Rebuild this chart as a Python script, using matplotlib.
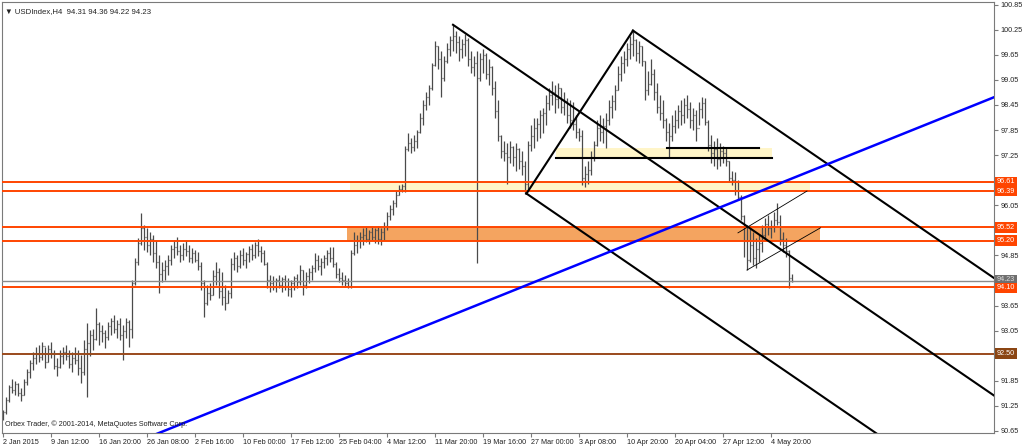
import numpy as np
import matplotlib.pyplot as plt
from matplotlib.patches import Rectangle
from matplotlib.transforms import ScaledTranslation

plt.rcParams['font.family'] = ['Liberation Sans', 'DejaVu Sans']

# USDIndex H4, every second bar (8 hours per sample)
highs = [91.15, 91.45, 91.75, 91.90, 91.85, 91.80, 91.68, 91.90, 92.13, 92.35,
         92.55, 92.65, 92.70, 92.78, 92.65, 92.70, 92.78, 92.58, 92.40, 92.58,
         92.65, 92.70, 92.58, 92.55, 92.65, 92.58, 92.47, 92.82, 93.23, 93.06,
         93.10, 93.59, 93.25, 93.18, 93.06, 93.25, 93.35, 93.42, 93.30, 93.35,
         93.18, 93.35, 93.30, 94.26, 94.78, 95.26, 95.86, 95.57, 95.50, 95.40,
         95.33, 95.21, 94.85, 94.69, 94.73, 94.85, 95.09, 95.21, 95.28, 95.09,
         95.14, 95.21, 95.09, 95.02, 94.97, 94.93, 94.69, 94.26, 94.14, 94.19,
         94.50, 94.69, 94.55, 94.45, 94.14, 94.02, 94.80, 94.93, 94.85, 94.97,
         95.02, 94.93, 95.07, 95.12, 95.16, 95.24, 95.07, 94.97, 94.69, 94.38,
         94.35, 94.31, 94.38, 94.33, 94.38, 94.31, 94.26, 94.35, 94.40, 94.62,
         94.50, 94.45, 94.55, 94.62, 94.90, 94.85, 94.78, 94.85, 94.97, 95.04,
         95.04, 94.69, 94.55, 94.45, 94.38, 94.31, 94.97, 95.40, 95.33, 95.40,
         95.50, 95.52, 95.45, 95.55, 95.50, 95.55, 95.50, 95.64, 95.88, 96.05,
         96.17, 96.41, 96.53, 96.57, 97.48, 97.79, 97.65, 97.72, 97.84, 98.27,
         98.56, 98.75, 98.92, 99.46, 99.99, 99.87, 99.75, 99.63, 99.94, 100.11,
         100.37, 100.23, 100.11, 100.04, 100.16, 100.06, 99.75, 99.63, 99.75, 99.70,
         99.80, 99.70, 99.56, 99.39, 99.03, 98.56, 97.72, 97.60, 97.55, 97.60,
         97.48, 97.55, 97.41, 97.36, 97.12, 97.60, 97.96, 98.15, 98.13, 98.32,
         98.37, 98.68, 98.85, 99.03, 98.92, 98.97, 98.85, 98.75, 98.61, 98.56,
         98.51, 98.20, 97.89, 97.84, 97.00, 97.12, 97.36, 97.60, 98.08, 98.20,
         98.13, 98.27, 98.56, 98.68, 98.92, 99.39, 99.63, 99.75, 99.94, 100.11,
         100.23, 100.04, 99.99, 99.87, 99.51, 99.27, 99.56, 99.32, 98.97, 98.68,
         98.56, 98.13, 98.03, 98.20, 98.32, 98.44, 98.56, 98.61, 98.68, 98.51,
         98.37, 98.32, 98.51, 98.65, 98.61, 98.08, 97.72, 97.60, 97.65, 97.55,
         97.48, 97.41, 97.12, 96.88, 96.84, 96.65, 96.29, 95.81, 95.57, 95.50,
         95.40, 95.26, 95.33, 95.57, 95.74, 95.81, 95.69, 95.88, 96.10, 95.81,
         95.40, 95.26, 94.97, 94.40]
lows = [90.91, 91.05, 91.35, 91.55, 91.50, 91.48, 91.37, 91.50, 91.75, 91.92,
        92.10, 92.25, 92.30, 92.35, 92.15, 92.30, 92.40, 92.12, 91.97, 92.15,
        92.25, 92.35, 92.15, 92.07, 92.25, 92.00, 91.80, 92.00, 91.46, 92.45,
        92.58, 92.82, 92.70, 92.78, 92.64, 92.82, 92.94, 93.00, 92.87, 92.82,
        92.35, 92.87, 92.66, 92.87, 94.14, 94.62, 95.09, 94.97, 94.93, 94.85,
        94.69, 94.55, 93.95, 94.21, 94.26, 94.38, 94.62, 94.78, 94.85, 94.69,
        94.73, 94.83, 94.69, 94.66, 94.69, 94.50, 94.02, 93.37, 93.66, 93.78,
        93.90, 94.14, 93.83, 93.66, 93.54, 93.71, 93.83, 94.50, 94.45, 94.55,
        94.62, 94.55, 94.69, 94.73, 94.78, 94.83, 94.69, 94.62, 94.07, 93.97,
        94.02, 93.97, 94.07, 93.97, 94.02, 93.88, 93.85, 94.02, 94.07, 94.14,
        93.90, 94.07, 94.19, 94.26, 94.45, 94.50, 94.38, 94.55, 94.62, 94.69,
        94.57, 94.31, 94.21, 94.14, 94.09, 94.07, 94.07, 94.85, 94.90, 95.02,
        95.09, 95.16, 95.12, 95.21, 95.14, 95.12, 95.09, 95.21, 95.45, 95.69,
        95.81, 96.00, 96.29, 96.36, 96.36, 97.36, 97.31, 97.36, 97.41, 97.79,
        97.96, 98.32, 98.44, 98.80, 99.39, 99.32, 98.63, 99.03, 99.46, 99.63,
        99.75, 99.70, 99.51, 99.58, 99.63, 99.39, 99.22, 99.15, 94.68, 99.03,
        99.22, 99.08, 98.92, 98.68, 98.13, 97.60, 97.17, 97.12, 96.57, 97.07,
        97.00, 96.88, 96.93, 96.77, 96.33, 96.41, 97.36, 97.41, 97.60, 97.67,
        97.79, 97.96, 98.32, 98.44, 98.27, 98.37, 98.25, 98.20, 98.03, 97.89,
        97.84, 97.67, 97.60, 96.53, 96.48, 96.57, 96.77, 97.12, 97.48, 97.60,
        97.53, 97.43, 97.96, 98.13, 98.32, 98.80, 99.03, 99.22, 99.39, 99.56,
        99.63, 99.51, 99.46, 99.39, 98.56, 98.68, 98.92, 98.56, 98.27, 98.08,
        97.89, 97.60, 97.17, 97.60, 97.79, 97.89, 97.96, 98.03, 98.13, 97.91,
        97.84, 97.60, 97.96, 98.13, 97.96, 97.36, 97.07, 97.00, 96.93, 97.00,
        97.05, 97.00, 96.60, 96.53, 96.29, 96.17, 95.69, 94.81, 94.50, 94.69,
        94.62, 94.55, 94.69, 94.93, 95.21, 95.33, 95.26, 95.40, 95.57, 95.09,
        94.93, 94.81, 94.07, 94.22]
closes = [91.10, 91.40, 91.70, 91.62, 91.78, 91.55, 91.52, 91.82, 92.05, 92.28,
          92.40, 92.50, 92.42, 92.68, 92.30, 92.60, 92.52, 92.20, 92.18, 92.45,
          92.55, 92.45, 92.25, 92.40, 92.35, 92.15, 92.05, 92.60, 92.75, 92.95,
          92.85, 93.20, 93.05, 93.00, 92.90, 93.15, 93.28, 93.10, 93.20, 92.95,
          93.05, 93.25, 93.10, 94.20, 94.70, 95.15, 95.50, 95.30, 95.10, 95.25,
          94.90, 94.70, 94.40, 94.50, 94.60, 94.75, 95.00, 95.05, 94.95, 94.85,
          95.00, 94.95, 94.80, 94.90, 94.75, 94.60, 94.20, 93.70, 93.95, 93.90,
          94.35, 94.45, 94.00, 93.85, 93.70, 93.95, 94.65, 94.80, 94.60, 94.85,
          94.75, 94.88, 95.00, 94.85, 95.10, 94.95, 94.90, 94.65, 94.25, 94.20,
          94.10, 94.25, 94.15, 94.28, 94.12, 94.05, 94.20, 94.30, 94.22, 94.50,
          94.15, 94.35, 94.45, 94.55, 94.75, 94.60, 94.70, 94.80, 94.90, 94.80,
          94.65, 94.40, 94.30, 94.25, 94.20, 94.12, 94.90, 95.10, 95.20, 95.30,
          95.35, 95.25, 95.40, 95.30, 95.45, 95.25, 95.40, 95.55, 95.80, 95.95,
          96.10, 96.30, 96.45, 96.50, 97.40, 97.55, 97.45, 97.60, 97.80, 98.15,
          98.45, 98.65, 98.85, 99.40, 99.85, 99.55, 99.10, 99.50, 99.80, 100.00,
          100.10, 99.95, 99.80, 99.90, 100.00, 99.55, 99.35, 99.45, 99.10, 99.55,
          99.65, 99.20, 99.35, 98.85, 98.30, 97.70, 97.35, 97.30, 97.20, 97.45,
          97.20, 97.40, 97.10, 97.00, 96.55, 97.50, 97.70, 97.90, 98.00, 98.20,
          98.25, 98.50, 98.70, 98.75, 98.60, 98.85, 98.40, 98.55, 98.20, 98.10,
          98.00, 97.80, 97.70, 96.70, 96.80, 96.90, 97.20, 97.50, 97.90, 97.80,
          97.95, 98.10, 98.40, 98.55, 98.80, 99.20, 99.45, 99.55, 99.80, 99.90,
          100.00, 99.70, 99.85, 99.50, 98.80, 98.95, 99.20, 98.75, 98.40, 98.25,
          98.10, 97.80, 97.70, 97.95, 98.10, 98.30, 98.20, 98.45, 98.35, 98.10,
          98.20, 97.90, 98.35, 98.50, 98.05, 97.50, 97.30, 97.40, 97.15, 97.35,
          97.30, 97.10, 96.70, 96.65, 96.40, 96.25, 95.80, 95.20, 94.75, 95.10,
          94.80, 95.00, 95.15, 95.35, 95.60, 95.50, 95.55, 95.70, 95.65, 95.25,
          95.10, 94.95, 94.30, 94.23]
first_open = 91.00
bar_step = 2          # H4 bars per sample

time_labels = ['2 Jan 2015', '9 Jan 12:00', '16 Jan 20:00', '26 Jan 08:00', '2 Feb 16:00',
               '10 Feb 00:00', '17 Feb 12:00', '25 Feb 04:00', '4 Mar 12:00', '11 Mar 20:00',
               '19 Mar 16:00', '27 Mar 00:00', '3 Apr 08:00', '10 Apr 20:00', '20 Apr 04:00',
               '27 Apr 12:00', '4 May 20:00']
label_every = 32      # H4 bars between time labels

# drawn objects (bar index, price)
red_levels = [96.61, 96.39, 95.52, 95.20, 94.10]
brown_level = 92.50
bid = 94.23
yellow_zones = [(231, 538, 96.39, 96.61), (369, 513, 97.17, 97.41)]
orange_zone = (229, 545, 95.20, 95.52)
black_hlines = [(443, 504, 97.41), (369, 513, 97.17)]
peak1 = (300, 100.37)
low1 = (349, 96.33)
peak2 = (420, 100.23)
channel_slope = -0.0246   # price per bar
blue_line = [(106, 90.63), (661, 98.64)]
flag_lines = [[(496, 94.50), (545, 95.51)], [(490, 95.39), (536, 96.39)]]

opens = [first_open] + closes[:-1]
x = np.arange(len(closes)) * bar_step
fs = 5.2

fig = plt.figure(figsize=(10.24, 4.47), dpi=100)
ax = fig.add_axes([2 / 1024, 14 / 447, 992 / 1024, 431 / 447])
ax.set_xlim(-0.7, 660.7)
ax.set_ylim(90.60, 100.915)

# zones
for x0, x1, lo, hi in yellow_zones:
    ax.add_patch(Rectangle((x0, lo), x1 - x0, hi - lo, facecolor='#fff5c8', edgecolor='none', zorder=1))
x0, x1, lo, hi = orange_zone
ax.add_patch(Rectangle((x0, lo), x1 - x0, hi - lo, facecolor='#f4a460', edgecolor='none', zorder=1))

# OHLC bars
bar_col = '#4a4a4a'
ax.vlines(x, lows, highs, color=bar_col, lw=0.9, zorder=2)
ax.hlines(opens, x - 0.7, x, color=bar_col, lw=0.9, zorder=2)
ax.hlines(closes, x, x + 0.7, color=bar_col, lw=0.9, zorder=2)

# horizontal levels
for lv in red_levels:
    ax.axhline(lv, color='#ff4500', lw=1.4, zorder=3)
ax.axhline(brown_level, color='#9a4a1c', lw=1.4, zorder=3)
ax.axhline(bid, color='#8c8c8c', lw=1.0, zorder=3)
for x0, x1, lv in black_hlines:
    ax.plot([x0, x1], [lv, lv], color='black', lw=1.5, zorder=4)

# pitchfork style channel
x_far = 760
ax.plot([low1[0], peak2[0]], [low1[1], peak2[1]], color='black', lw=1.5, zorder=4)
for px, py in [peak1, low1, peak2]:
    ax.plot([px, x_far], [py, py + channel_slope * (x_far - px)], color='black', lw=1.5, zorder=4)

# flag lines
for (ax0, ay0), (ax1, ay1) in flag_lines:
    ax.plot([ax0, ax1], [ay0, ay1], color='black', lw=0.6, zorder=4)

# blue trend line
(bx0, by0), (bx1, by1) = blue_line
bs = (by1 - by0) / (bx1 - bx0)
ax.plot([0, 700], [by0 - bs * bx0, by0 + bs * (700 - bx0)], color='#0000ff', lw=1.8, zorder=4)

# axes style
for sp in ax.spines.values():
    sp.set_color('#7a7a7a')
    sp.set_linewidth(0.8)
ax.yaxis.tick_right()
yt = np.round(np.arange(90.65, 100.86, 0.6), 2)
boxed = red_levels + [brown_level, bid]
ax.set_yticks(yt)
# labels hidden behind the price boxes are left out
ax.set_yticklabels(['' if min(abs(v - b) for b in boxed) < 0.09 else '%.2f' % v for v in yt])
ax.set_xticks(np.arange(len(time_labels)) * label_every)
ax.set_xticklabels(time_labels)
for lab in ax.get_xticklabels():
    lab.set_ha('left')
ax.tick_params(axis='both', colors='#7a7a7a', labelcolor='#222222', labelsize=fs,
               length=3, width=0.8, pad=1.5)

# price labels on the axis
ytr = ax.get_yaxis_transform()
box_kw = dict(fontsize=fs, ha='left', va='center', clip_on=False)


def price_box(level, face, txt_col, dy=0, z=6):
    tr = ytr + ScaledTranslation(0, dy / 72, fig.dpi_scale_trans)
    ax.text(1.003, level, '%.2f' % level, color=txt_col, transform=tr, zorder=z,
            bbox=dict(boxstyle='square,pad=0.25', facecolor=face, edgecolor='none'), **box_kw)


price_box(bid, '#6f6f6f', '#dddddd', dy=1.0, z=5)
for lv in red_levels:
    price_box(lv, '#ff4500', 'white', dy=-0.8 if lv == 94.10 else 0)
price_box(brown_level, '#8b4513', 'white')

# header and copyright
ax.text(0.003, 0.985, '\u25bc USDIndex,H4  94.31 94.36 94.22 94.23', transform=ax.transAxes,
        fontsize=5.6, color='#222222', ha='left', va='top', zorder=7)
ax.text(0.003, 0.012, 'Orbex Trader, \u00a9 2001-2014, MetaQuotes Software Corp.', transform=ax.transAxes,
        fontsize=5.2, color='#222222', ha='left', va='bottom', zorder=7)

fig.savefig('out.png', dpi=100, facecolor='white')
